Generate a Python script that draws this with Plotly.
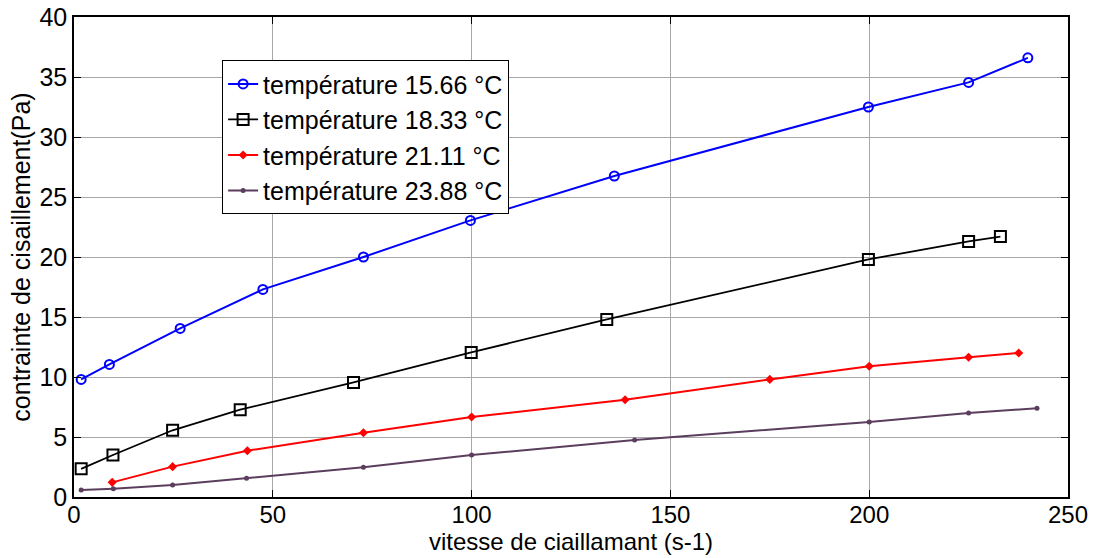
import plotly.graph_objects as go

x_1566 = [1.8, 8.9, 26.7, 47.5, 72.8, 99.7, 135.9, 199.8, 225, 239.9]
y_1566 = [9.8, 11.05, 14.05, 17.3, 20.0, 23.05, 26.75, 32.5, 34.55, 36.6]

x_1833 = [1.8, 9.8, 24.8, 41.8, 70.3, 99.9, 134.0, 199.8, 225, 233]
y_1833 = [2.35, 3.5, 5.56, 7.28, 9.55, 12.05, 14.8, 19.8, 21.3, 21.7]

x_2111 = [9.6, 24.8, 43.6, 72.8, 100, 138.6, 175, 200, 225, 237.6]
y_2111 = [1.22, 2.53, 3.86, 5.36, 6.67, 8.1, 9.8, 10.9, 11.65, 12.0]

x_2388 = [1.8, 9.9, 24.8, 43.4, 72.8, 100, 141, 200, 225, 242.2]
y_2388 = [0.58, 0.69, 1.0, 1.56, 2.47, 3.5, 4.75, 6.25, 7.0, 7.4]

names = ["température 15.66 °C", "température 18.33 °C",
         "température 21.11 °C", "température 23.88 °C"]

x_ticks = [0, 50, 100, 150, 200, 250]
y_ticks = [0, 5, 10, 15, 20, 25, 30, 35, 40]

FONT = "Arial, Liberation Sans"

fig = go.Figure()
fig.add_trace(go.Scatter(x=x_1566, y=y_1566, name=names[0], mode="lines+markers",
                         line=dict(color="#0000ff", width=2),
                         marker=dict(symbol="circle-open", size=9, color="#0000ff",
                                     line=dict(width=2))))
fig.add_trace(go.Scatter(x=x_1833, y=y_1833, name=names[1], mode="lines+markers",
                         line=dict(color="#000000", width=1.8),
                         marker=dict(symbol="square-open", size=11, color="#000000",
                                     line=dict(width=2))))
fig.add_trace(go.Scatter(x=x_2111, y=y_2111, name=names[2], mode="lines+markers",
                         line=dict(color="#ff0000", width=2),
                         marker=dict(symbol="diamond", size=7, color="#ff0000")))
fig.add_trace(go.Scatter(x=x_2388, y=y_2388, name=names[3], mode="lines+markers",
                         line=dict(color="#5b3d5e", width=2),
                         marker=dict(symbol="circle", size=5, color="#5b3d5e")))

axis_common = dict(showline=True, linecolor="black", linewidth=1.5, mirror="allticks",
                   ticks="inside", ticklen=7, tickcolor="black",
                   showgrid=True, gridcolor="#a8a8a8", gridwidth=1,
                   zeroline=False, automargin=False)

fig.update_xaxes(range=[0, 250], tickvals=x_ticks,
                 tickfont=dict(family=FONT, size=24, color="black"),
                 ticklabelstandoff=-5,
                 title=dict(text="vitesse de ciaillamant (s-1)", standoff=0,
                            font=dict(family=FONT, size=24, color="black")),
                 **axis_common)
fig.update_yaxes(range=[0, 40], tickvals=y_ticks,
                 tickfont=dict(family=FONT, size=25, color="black"),
                 title=dict(text="contrainte de cisaillement(Pa)", standoff=2,
                            font=dict(family=FONT, size=25, color="black")),
                 **axis_common)

fig.update_layout(
    width=1094, height=558,
    margin=dict(l=74, r=26, t=17, b=61),
    plot_bgcolor="white", paper_bgcolor="white",
    font=dict(family=FONT, size=25, color="black"),
    legend=dict(x=0.149, y=0.91, xanchor="left", yanchor="top",
                bgcolor="white", bordercolor="black", borderwidth=1,
                font=dict(family=FONT, size=25, color="black"),
                tracegroupgap=0, itemwidth=30),
    showlegend=True,
)

fig.write_html("out.html")
